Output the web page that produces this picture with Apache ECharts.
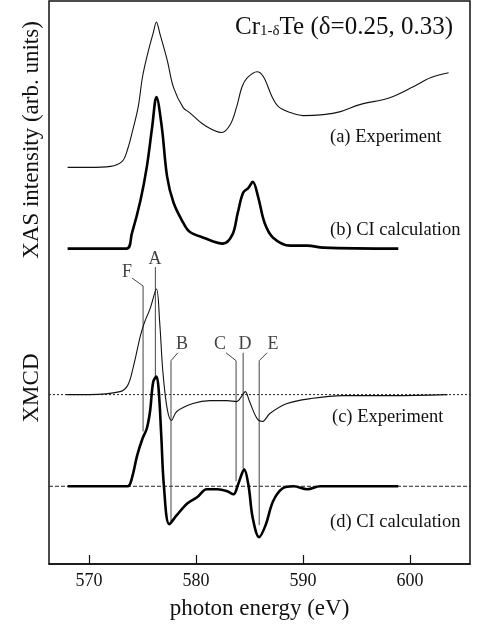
<!DOCTYPE html>
<html>
<head>
<meta charset="utf-8">
<style>
  html, body { margin: 0; padding: 0; background: #fff; }
  #chart { width: 480px; height: 625px; }
</style>
<script src="https://cdn.jsdelivr.net/npm/echarts@6/dist/echarts.min.js"></script>
</head>
<body>
<div id="chart"></div>
<script>
// photon energy (eV), intensity relative to each curve's own baseline (arb. units)
var xasExpE = [568.0, 570.0, 572.0, 573.1, 573.6, 574.1, 574.6, 575.0, 575.5, 576.0, 576.3, 576.6, 577.3, 577.9, 578.8, 579.4,
  580.7, 582.4, 583.2, 583.8, 584.3, 584.8, 585.7, 586.3, 587.1, 587.7, 588.8, 590.0, 591.9, 593.5, 595.3, 598.1, 600.3, 601.9, 603.6];
var xasExpI = [0, 0, 1, 6, 18, 38, 61, 91, 115, 135, 146, 135, 108, 80, 60, 55,
  43, 35, 43, 61, 81, 90, 96, 91, 71, 61, 55, 52, 53, 56, 63, 70, 81, 90, 95];

var xasCalcE = [568.0, 573.5, 574.0, 574.8, 575.4, 575.9, 576.3, 576.8, 577.3, 577.9, 578.8, 579.4, 580.7, 582.5, 583.4, 583.9,
  584.4, 584.9, 585.3, 585.8, 586.4, 587.2, 588.8, 590.4, 591.9, 598.9];
var xasCalcI = [0, 0, 15, 48, 82, 122, 152, 122, 72, 46, 26, 17, 11, 5, 14, 36,
  56, 61, 67, 52, 26, 11, 3, 3, 1, 0];

var mcdExpE = [567.9, 570.0, 572.9, 573.6, 574.1, 574.8, 575.2, 575.7, 576.3, 576.6, 576.9, 577.3, 577.7, 578.2, 579.7, 581.3,
  582.9, 583.8, 584.3, 584.6, 585.0, 585.7, 586.2, 586.9, 588.5, 590.7, 593.7, 598.4, 603.5];
var mcdExpI = [0, 0, 3, 9, 26, 59, 73, 86, 106, 73, 23, -14, -26, -17, -9, -6,
  -6, -7, -1, 3, -7, -24, -27, -19, -9, -4, -1, -1, 0];

var mcdCalcE = [568.0, 573.6, 574.0, 574.5, 575.0, 575.4, 575.7, 576.0, 576.3, 576.5, 576.75, 577.0, 577.5, 578.2, 579.2, 580.1,
  581.0, 582.0, 582.9, 583.5, 583.9, 584.3, 584.5, 584.9, 585.3, 585.9, 586.5, 587.2, 588.1, 589.1, 590.4, 591.6, 598.9];
var mcdCalcI = [0, 0, 8, 31, 48, 58, 75, 105, 110, 98, 51, 0, -38, -29, -17, -11,
  -3, -3, -5, -8, 1, 13, 17, 1, -32, -51, -39, -15, -2, 0, -3, 0, 0];

// vertical offsets of the stacked curves
var offsets = { xasExp: 398, xasCalc: 316.5, mcdExp: 170, mcdCalc: 78 };

var xTicks = [570, 580, 590, 600];

// feature markers: label spot and the leader line (energy, level)
var markerNames = ['F', 'A', 'B', 'C', 'D', 'E'];
var markerLabelAt = [[573.55, 293], [576.17, 306], [578.69, 221], [582.24, 221], [584.58, 221], [587.2, 221]];
var markerPaths = [
  [[574.02, 287], [575.05, 279], [575.05, 133]],
  [[576.2, 298], [576.2, 188]],
  [[578.3, 212], [577.66, 204], [577.66, 43]],
  [[582.8, 212], [583.74, 204], [583.74, 83]],
  [[584.4, 212], [584.4, 96]],
  [[586.64, 212], [585.9, 204], [585.9, 39]]
];

function pairs(e, v, off) {
  return e.map(function (x, i) { return [x, v[i] + off]; });
}

var serif = '"Liberation Serif", "DejaVu Serif", serif';
var xMin = 566.26, xMax = 605.6;

var series = [
  {
    type: 'line', name: 'mcdExpBase', data: [[xMin, offsets.mcdExp], [xMax, offsets.mcdExp]],
    symbol: 'none', silent: true, lineStyle: { color: '#222', width: 1, type: [2, 2] }
  },
  {
    type: 'line', name: 'mcdCalcBase', data: [[xMin, offsets.mcdCalc], [xMax, offsets.mcdCalc]],
    symbol: 'none', silent: true, lineStyle: { color: '#222', width: 1, type: [4, 2] }
  }
];

markerPaths.forEach(function (p, i) {
  series.push({
    type: 'line', name: 'marker' + markerNames[i], data: p, symbol: 'none', silent: true,
    lineStyle: { color: '#444', width: 1 }
  });
});

series.push(
  {
    type: 'line', name: '(a)', data: pairs(xasExpE, xasExpI, offsets.xasExp), symbol: 'none', smooth: 0.35,
    lineStyle: { color: '#111', width: 1.1 }
  },
  {
    type: 'line', name: '(b)', data: pairs(xasCalcE, xasCalcI, offsets.xasCalc), symbol: 'none', smooth: 0.35,
    lineStyle: { color: '#000', width: 2.6 }
  },
  {
    type: 'line', name: '(c)', data: pairs(mcdExpE, mcdExpI, offsets.mcdExp), symbol: 'none', smooth: 0.35,
    lineStyle: { color: '#111', width: 1.1 }
  },
  {
    type: 'line', name: '(d)', data: pairs(mcdCalcE, mcdCalcI, offsets.mcdCalc), symbol: 'none', smooth: 0.35,
    lineStyle: { color: '#000', width: 2.6 }
  },
  {
    type: 'scatter', name: 'labels', symbolSize: 0, silent: true,
    data: markerLabelAt.map(function (p, i) { return { value: p, name: markerNames[i] }; }),
    label: {
      show: true, position: 'inside', formatter: '{b}',
      fontFamily: serif, fontSize: 18, color: '#111'
    }
  }
);

var chart = echarts.init(document.getElementById('chart'));
chart.setOption({
  animation: false,
  backgroundColor: '#fff',
  title: {
    right: 22, top: 10,
    text: '{a|Cr}{s|1-δ}{a|Te (δ=0.25, 0.33)}',
    textStyle: {
      rich: {
        a: { fontFamily: serif, fontSize: 25, fontWeight: 'normal', color: '#111' },
        s: { fontFamily: serif, fontSize: 15, fontWeight: 'normal', color: '#111', padding: [7, 0, 0, 0] }
      }
    }
  },
  grid: { left: 49, right: 10, top: 1, bottom: 59, show: true, borderColor: '#111', borderWidth: 1.5, backgroundColor: 'transparent' },
  xAxis: {
    type: 'value', min: xMin, max: xMax,
    name: 'photon energy (eV)', nameLocation: 'middle', nameGap: 33,
    nameTextStyle: { fontFamily: serif, fontSize: 23, color: '#111' },
    axisLine: { lineStyle: { color: '#111', width: 1.5 } },
    axisTick: { inside: true, length: 9, customValues: xTicks, lineStyle: { color: '#111', width: 1.2 } },
    axisLabel: { customValues: xTicks, fontFamily: serif, fontSize: 18, color: '#111', margin: 8 },
    splitLine: { show: false }
  },
  yAxis: {
    type: 'value', min: 0, max: 565,
    axisLine: { show: false }, axisTick: { show: false }, axisLabel: { show: false }, splitLine: { show: false }
  },
  graphic: [
    { type: 'text', x: 32, y: 140, rotation: Math.PI / 2, style: { text: 'XAS intensity (arb. units)', font: '23px ' + serif, fill: '#111', align: 'center', verticalAlign: 'middle' } },
    { type: 'text', x: 32, y: 388, rotation: Math.PI / 2, style: { text: 'XMCD', font: '23px ' + serif, fill: '#111', align: 'center', verticalAlign: 'middle' } },
    { type: 'text', x: 330, y: 137, style: { text: '(a) Experiment', font: '18.5px ' + serif, fill: '#111', verticalAlign: 'middle' } },
    { type: 'text', x: 330, y: 230, style: { text: '(b) CI calculation', font: '18.5px ' + serif, fill: '#111', verticalAlign: 'middle' } },
    { type: 'text', x: 332, y: 417, style: { text: '(c) Experiment', font: '18.5px ' + serif, fill: '#111', verticalAlign: 'middle' } },
    { type: 'text', x: 330, y: 522, style: { text: '(d) CI calculation', font: '18.5px ' + serif, fill: '#111', verticalAlign: 'middle' } }
  ],
  series: series
});
</script>
</body>
</html>
